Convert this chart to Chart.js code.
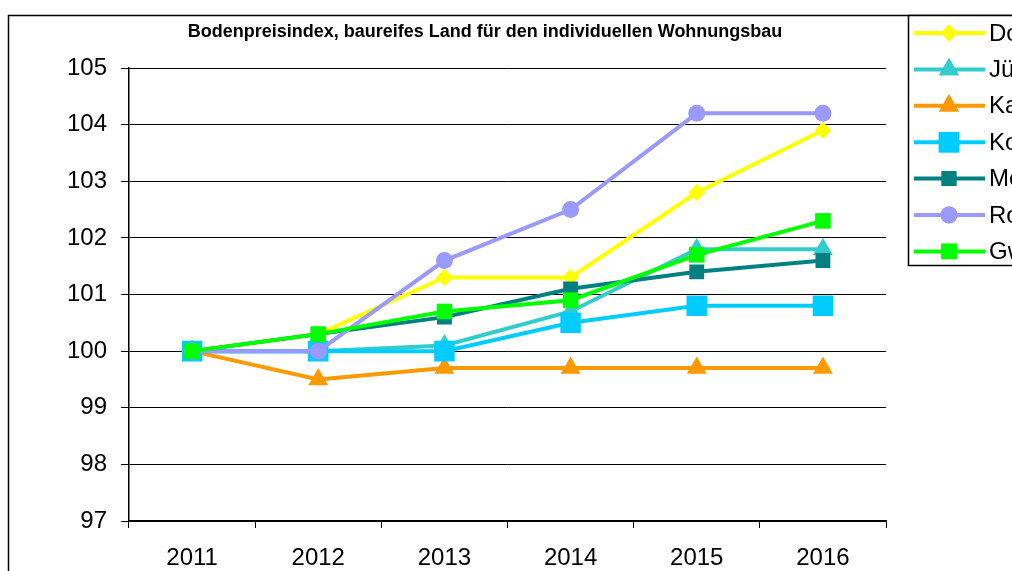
<!DOCTYPE html>
<html>
<head>
<meta charset="utf-8">
<script src="https://cdn.jsdelivr.net/npm/chart.js@4/dist/chart.umd.min.js"></script>
<style>
    html, body { margin: 0; padding: 0; background: #fff; overflow: hidden; }
    #wrap { position: relative; width: 1012px; height: 571px; }
</style>
</head>
<body>
<div id="wrap"><canvas id="chart"></canvas></div>
<script>
const TITLE = 'Bodenpreisindex, baureifes Land für den individuellen Wohnungsbau';
const years = ['2011', '2012', '2013', '2014', '2015', '2016'];

const seriesLabels = ['Do', 'Jü', 'Ka', 'Ko', 'Me', 'Ro', 'Gw'];
const seriesColors = ['#FFFF00', '#33CCCC', '#FF9900', '#00CCFF', '#008080', '#9999FF', '#00FF00'];
const seriesMarkers = ['rectRot', 'triangle', 'triangle', 'rect', 'rect', 'circle', 'rect'];
const markerSizes = [8.5, 11.5, 11.5, 14.5, 10.5, 8.5, 11];

const doValues = [100, 100.3, 101.3, 101.3, 102.8, 103.9];
const jueValues = [100, 100, 100.1, 100.7, 101.8, 101.8];
const kaValues = [100, 99.5, 99.7, 99.7, 99.7, 99.7];
const koValues = [100, 100, 100, 100.5, 100.8, 100.8];
const meValues = [100, 100.3, 100.6, 101.1, 101.4, 101.6];
const roValues = [100, 100, 101.6, 102.5, 104.2, 104.2];
const gwValues = [100, 100.3, 100.7, 100.9, 101.7, 102.3];

const seriesValues = [doValues, jueValues, kaValues, koValues, meValues, roValues, gwValues];

const yTicks = [97, 98, 99, 100, 101, 102, 103, 104, 105];

const FONT = 'Arial, "Liberation Sans", sans-serif';

// Rahmen, Titel und Legende (wie im Excel-Diagramm)
const framePlugin = {
    id: 'frame',
    afterDraw(chart) {
        const ctx = chart.ctx;
        ctx.save();
        ctx.strokeStyle = '#000';
        ctx.lineWidth = 1.5;
        ctx.strokeRect(8.5, 15.5, 1100, 600);

        ctx.fillStyle = '#000';
        ctx.font = 'bold 18px ' + FONT;
        ctx.textAlign = 'center';
        ctx.textBaseline = 'middle';
        ctx.fillText(TITLE, 485, 32);

        // Legende
        ctx.fillStyle = '#fff';
        ctx.fillRect(908, 15, 200, 251);
        ctx.strokeRect(908.5, 15.5, 200, 250);
        chart.data.datasets.forEach((ds, i) => {
            const y = 33 + i * 36.4;
            ctx.strokeStyle = ds.borderColor;
            ctx.lineWidth = 4;
            ctx.beginPath();
            ctx.moveTo(914, y);
            ctx.lineTo(985, y);
            ctx.stroke();
            ctx.fillStyle = ds.borderColor;
            Chart.helpers.drawPoint(ctx, {
                pointStyle: ds.pointStyle,
                radius: ds.pointRadius,
                rotation: 0,
                borderWidth: 0
            }, 949, y);
            ctx.fill();
            ctx.fillStyle = '#000';
            ctx.font = '24px ' + FONT;
            ctx.textAlign = 'left';
            ctx.textBaseline = 'middle';
            ctx.fillText(ds.label, 989, y + 1);
        });
        ctx.restore();
    }
};

const datasets = seriesLabels.map((label, i) => ({
    label: label,
    data: seriesValues[i],
    borderColor: seriesColors[i],
    backgroundColor: seriesColors[i],
    borderWidth: 4,
    pointStyle: seriesMarkers[i],
    pointRadius: markerSizes[i],
    pointHoverRadius: markerSizes[i],
    pointBorderWidth: 0,
    pointBackgroundColor: seriesColors[i],
    tension: 0,
    order: seriesLabels.length - 1 - i
}));

new Chart(document.getElementById('chart'), {
    type: 'line',
    data: { labels: years, datasets: datasets },
    options: {
        responsive: true,
        maintainAspectRatio: false,
        animation: false,
        layout: { padding: { left: 8, top: 68, right: 126, bottom: 0 } },
        plugins: {
            legend: { display: false },
            tooltip: { enabled: false },
            title: { display: false }
        },
        scales: {
            x: {
                offset: true,
                afterFit: s => { s.height = 50; },
                grid: {
                    offset: true,
                    drawOnChartArea: false,
                    color: '#000',
                    tickLength: 7
                },
                border: { color: '#000', width: 1.5 },
                ticks: {
                    color: '#000',
                    font: { family: FONT, size: 24 },
                    padding: 16
                }
            },
            y: {
                min: 97,
                max: 105,
                afterFit: s => { s.width = 121; },
                afterBuildTicks: s => { s.ticks = yTicks.map(v => ({ value: v })); },
                grid: {
                    color: '#000',
                    lineWidth: 1,
                    tickLength: 8
                },
                border: { color: '#000', width: 1.5 },
                ticks: {
                    color: '#000',
                    font: { family: FONT, size: 24 },
                    padding: 14
                }
            }
        }
    },
    plugins: [framePlugin]
});
</script>
</body>
</html>
